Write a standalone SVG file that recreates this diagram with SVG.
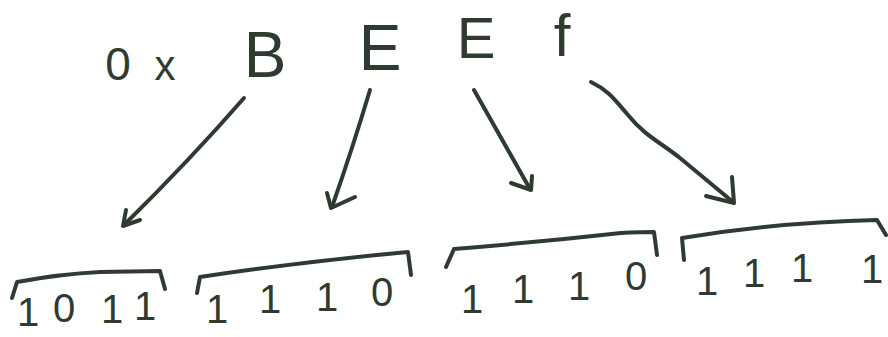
<svg xmlns="http://www.w3.org/2000/svg" width="888" height="337" viewBox="0 0 888 337">
<style>
.ink{fill:none;stroke:#2f3a31;stroke-width:4;stroke-linecap:round;stroke-linejoin:round}
.t{font-family:"Liberation Sans",Arial,sans-serif;fill:#2f3a31;text-anchor:middle}
.d{font-size:40px;font-weight:normal}
</style>
<rect width="888" height="337" fill="#ffffff"/>
<g id="hex">
<text class="t" x="118" y="80" font-size="46">0</text>
<text class="t" x="165" y="80" font-size="42">x</text>
<text class="t" x="265" y="77" font-size="64">B</text>
<text class="t" x="380" y="70" font-size="64">E</text>
<text class="t" x="476" y="58" font-size="58">E</text>
<text class="t" x="562" y="56" font-size="60">f</text>
</g>
<g id="connectors">
<path class="ink" d="M244,98 Q190,160 124,225"/>
<path class="ink" d="M126,210 L123,226 L140,220"/>
<path class="ink" d="M370,90 Q352,150 332,207"/>
<path class="ink" d="M327,193 L331,208 L355,197"/>
<path class="ink" d="M474,90 L530,189"/>
<path class="ink" d="M511,183 L531,190 L532,176"/>
<path class="ink" d="M591,82 C608,90 615,100 628,115 C645,136 660,142 680,158 L733,202"/>
<path class="ink" d="M706,196 L734,203 L732,177"/>
</g>
<g id="nibble1">
<path class="ink" d="M12,298 L17,282 Q60,274 100,272 L160,271 L165,289"/>
<text class="t d" x="28" y="326">1</text>
<text class="t d" x="64" y="322">0</text>
<text class="t d" x="112" y="323">1</text>
<text class="t d" x="145" y="320">1</text>
</g>
<g id="nibble2">
<path class="ink" d="M197,293 L200,277 Q300,262 408,252 L411,275"/>
<text class="t d" x="217" y="323">1</text>
<text class="t d" x="270" y="313">1</text>
<text class="t d" x="327" y="311">1</text>
<text class="t d" x="382" y="306">0</text>
</g>
<g id="nibble3">
<path class="ink" d="M446,267 L454,249 Q540,242 621,233 Q640,232 654,232 L657,255"/>
<text class="t d" x="472" y="313">1</text>
<text class="t d" x="523" y="303">1</text>
<text class="t d" x="579" y="300">1</text>
<text class="t d" x="636" y="290">0</text>
</g>
<g id="nibble4">
<path class="ink" d="M684,260 L682,238 Q780,222 877,220 L886,235"/>
<text class="t d" x="707" y="295">1</text>
<text class="t d" x="754" y="287">1</text>
<text class="t d" x="802" y="282">1</text>
<text class="t d" x="872" y="283">1</text>
</g>
</svg>
